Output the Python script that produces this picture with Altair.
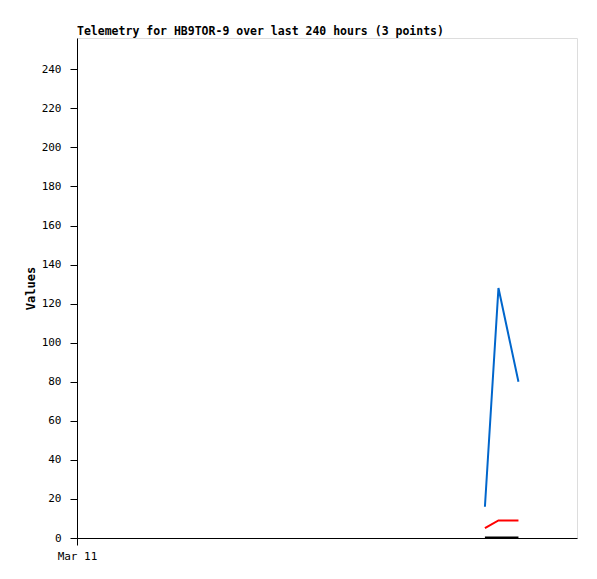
import altair as alt
import pandas as pd

hours = [195.8, 202.3, 211.9]
series_blue = [16, 128, 80]
series_red = [5, 9, 9]
series_black = [0.3, 0.3, 0.3]
series_names = ["blue", "red", "black"]
series_colors = ["#0066cc", "#ff0000", "#000000"]
y_ticks = [0, 20, 40, 60, 80, 100, 120, 140, 160, 180, 200, 220, 240]
x_label = "Mar 11"

rows = []
for name, vals in zip(series_names, [series_blue, series_red, series_black]):
    for h, v in zip(hours, vals):
        rows.append({"h": h, "v": v, "s": name})
df = pd.DataFrame(rows)

font = "DejaVu Sans Mono"

chart = alt.Chart(df).mark_line(strokeWidth=2, clip=True).encode(
    x=alt.X("h:Q", scale=alt.Scale(domain=[0, 240], nice=False, zero=False),
            axis=alt.Axis(values=[0], labelExpr=f"'{x_label}'", title=None, grid=False,
                          tickSize=7, tickColor="black", domainColor="black",
                          labelFont=font, labelFontSize=11, labelColor="black",
                          labelPadding=5, labelFlush=False)),
    y=alt.Y("v:Q", scale=alt.Scale(domain=[0, 256], nice=False),
            axis=alt.Axis(values=y_ticks, title="Values", grid=False, tickSize=7,
                          tickColor="black", domainColor="black",
                          labelFont=font, labelFontSize=11, labelColor="black",
                          labelPadding=9, titleFont=font, titleFontSize=12,
                          titleFontWeight="bold", titleColor="black", titlePadding=4)),
    color=alt.Color("s:N", scale=alt.Scale(domain=series_names, range=series_colors), legend=None),
    detail="s:N",
).properties(
    width=500, height=500,
    title=alt.TitleParams("Telemetry for HB9TOR-9 over last 240 hours (3 points)",
                          anchor="start", frame="group", font=font, fontSize=11.5,
                          fontWeight="bold", color="black", offset=1),
    autosize=alt.AutoSizeParams(type="none"),
    padding={"left": 69, "top": 30, "right": 12, "bottom": 30},
).configure_view(stroke="#444444", strokeWidth=1).configure(background="white")

chart.save("out.html", embed_options={"renderer": "svg", "actions": False})
